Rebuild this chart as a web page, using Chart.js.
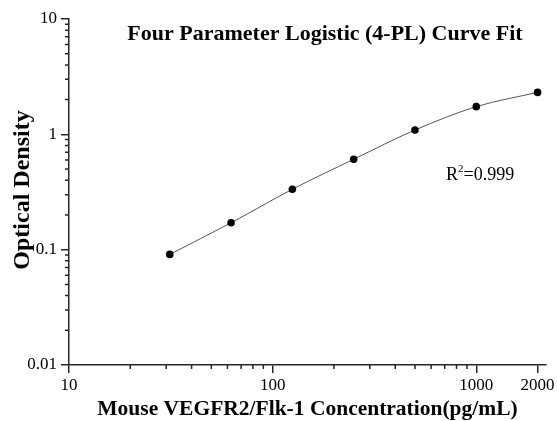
<!DOCTYPE html>
<html><head><meta charset="utf-8">
<script src="https://cdn.jsdelivr.net/npm/chart.js@4/dist/chart.umd.min.js"></script>
<style>html,body{margin:0;padding:0;background:#fff;overflow:hidden}</style>
</head><body>
<canvas id="c" width="557" height="421"></canvas>
<script>
const concentrations = [31.25, 62.5, 125, 250, 500, 1000, 2000];
const opticalDensity = [0.091, 0.171, 0.334, 0.608, 1.09, 1.738, 2.31];
const xTickLabels = [10, 100, 1000, 2000];
const yTickLabels = [0.01, 0.1, 1, 10];
const xMinorTicks = [20, 30, 40, 50, 60, 70, 80, 90, 200, 300, 400, 500, 600, 700, 800, 900];
const yMinorTicks = [0.02, 0.03, 0.04, 0.05, 0.06, 0.07, 0.08, 0.09, 0.2, 0.3, 0.4, 0.5, 0.6, 0.7, 0.8, 0.9, 2, 3, 4, 5, 6, 7, 8, 9];
const chartTitle = 'Four Parameter Logistic (4-PL) Curve Fit';
const xAxisTitle = 'Mouse VEGFR2/Flk-1 Concentration(pg/mL)';
const yAxisTitle = 'Optical Density';
const rSquaredValue = '0.999';

const SERIF = '"Liberation Serif", "Times New Roman", serif';
const AXIS_COLOR = '#262626';

const decor = {
  id: 'decor',
  afterDraw(chart) {
    const ctx = chart.ctx;
    const xs = chart.scales.x, ys = chart.scales.y;
    const area = chart.chartArea;
    ctx.save();
    ctx.strokeStyle = AXIS_COLOR;
    ctx.lineWidth = 1.5;
    ctx.beginPath();
    xMinorTicks.forEach(v => {
      const px = xs.getPixelForValue(v);
      ctx.moveTo(px, area.bottom);
      ctx.lineTo(px, area.bottom + 4);
    });
    yMinorTicks.forEach(v => {
      const py = ys.getPixelForValue(v);
      ctx.moveTo(area.left, py);
      ctx.lineTo(area.left - 4, py);
    });
    ctx.stroke();

    ctx.fillStyle = '#000';
    ctx.textAlign = 'center';
    ctx.textBaseline = 'alphabetic';
    ctx.font = 'bold 22px ' + SERIF;
    ctx.fillText(chartTitle, 325, 40);

    ctx.font = 'bold 21.5px ' + SERIF;
    ctx.fillText(xAxisTitle, (area.left + area.right) / 2, 415);

    ctx.save();
    ctx.translate(29, 190);
    ctx.rotate(-Math.PI / 2);
    ctx.font = 'bold 24px ' + SERIF;
    ctx.fillText(yAxisTitle, 0, 0);
    ctx.restore();

    ctx.textAlign = 'left';
    ctx.font = '18px ' + SERIF;
    let x0 = 446, by = 180;
    ctx.fillText('R', x0, by);
    const rw = ctx.measureText('R').width;
    ctx.font = '11px ' + SERIF;
    ctx.fillText('2', x0 + rw, by - 8);
    const sw = ctx.measureText('2').width;
    ctx.font = '18px ' + SERIF;
    ctx.fillText('=' + rSquaredValue, x0 + rw + sw, by);
    ctx.restore();
  }
};

new Chart(document.getElementById('c'), {
  type: 'line',
  data: {
    datasets: [{
      data: concentrations.map((c, i) => ({ x: c, y: opticalDensity[i] })),
      borderColor: '#555',
      borderWidth: 1,
      pointBackgroundColor: '#000',
      pointBorderColor: '#000',
      pointRadius: 3.8,
      pointBorderWidth: 0,
      cubicInterpolationMode: 'monotone',
      fill: false
    }]
  },
  options: {
    responsive: false,
    animation: false,
    devicePixelRatio: 1,
    layout: { padding: { top: 19, right: 11, left: 0, bottom: 0 } },
    plugins: { legend: { display: false }, tooltip: { enabled: false }, title: { display: false } },
    scales: {
      x: {
        type: 'logarithmic',
        min: 10, max: 2200,
        afterBuildTicks: s => { s.ticks = xTickLabels.map(v => ({ value: v })); },
        afterFit: s => { s.height = 56; },
        ticks: {
          callback: v => String(v),
          font: { family: SERIF, size: 17 },
          color: '#000',
          padding: 2,
          maxRotation: 0,
          autoSkip: false
        },
        grid: { drawOnChartArea: false, drawTicks: true, tickLength: 8, color: AXIS_COLOR, lineWidth: 1.5 },
        border: { display: true, color: AXIS_COLOR, width: 1.5 }
      },
      y: {
        type: 'logarithmic',
        min: 0.01, max: 10,
        afterBuildTicks: s => { s.ticks = yTickLabels.map(v => ({ value: v })); },
        afterFit: s => { s.width = 69; },
        ticks: {
          callback: v => String(v),
          font: { family: SERIF, size: 17 },
          color: '#000',
          padding: 4,
          autoSkip: false
        },
        grid: { drawOnChartArea: false, drawTicks: true, tickLength: 8, color: AXIS_COLOR, lineWidth: 1.5 },
        border: { display: true, color: AXIS_COLOR, width: 1.5 }
      }
    }
  },
  plugins: [decor]
});
</script>
</body></html>
